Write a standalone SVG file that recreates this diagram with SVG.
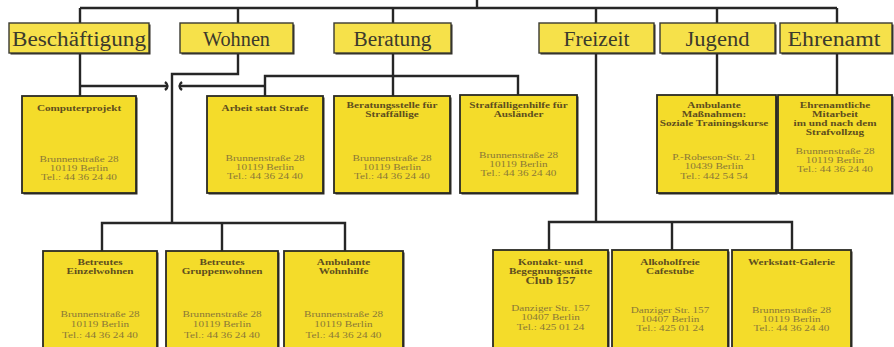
<svg xmlns="http://www.w3.org/2000/svg" width="894" height="347" viewBox="0 0 894 347">
<style>
.bg{fill:#ffffff}
.sh{fill:#2e2a22}
.tb{fill:#f6e14a;stroke:#3a3a32;stroke-width:1.4}
.box{fill:#f4dc2a;stroke:#2a2a24;stroke-width:1.8}
.ln{fill:none;stroke:#262626;stroke-width:2.4}
.top{font-family:"Liberation Serif","Times New Roman",serif;font-size:20px;fill:#3c3a2c;text-anchor:middle}
.t{font-family:"Liberation Serif","Times New Roman",serif;font-size:8.6px;font-weight:bold;fill:#5e4e1e;text-anchor:middle}
.a{font-family:"Liberation Serif","Times New Roman",serif;font-size:8.6px;fill:#8a7838;text-anchor:middle}
</style>
<rect class="bg" x="0" y="0" width="894" height="347"/>
<g id="connectors">
<path class="ln" d="M477 0 V8 M80 8 H837 M80 8 V23 M238 8 V23 M393 8 V23 M596 8 V23 M717 8 V23 M837 8 V23"/>
<path class="ln" d="M80 53 V96"/>
<path class="ln" d="M80 86 H167 M180 86 H265"/>
<path class="ln" stroke-width="2" d="M165 82 Q170 86 165 90 M182 82 Q177 86 182 90"/>
<path class="ln" d="M238 53 V74 H172 V223"/>
<path class="ln" d="M102 251 V223 H345 V251 M222 223 V251"/>
<path class="ln" d="M265 96 V76 H518 V95"/>
<path class="ln" d="M393 53 V96"/>
<path class="ln" d="M596 53 V222"/>
<path class="ln" d="M549 250 V222 H792 V250 M672 222 V250"/>
<path class="ln" d="M717 53 V95"/>
<path class="ln" d="M837 53 V95"/>
</g>
<g id="n-beschaeftigung">
<rect class="sh" x="10.5" y="24.5" width="140" height="30"/>
<rect class="tb" x="9" y="23" width="140" height="30"/>
<text class="top" x="79" y="46" textLength="134" lengthAdjust="spacingAndGlyphs">Beschäftigung</text>
</g>
<g id="n-wohnen">
<rect class="sh" x="181.5" y="24.5" width="113" height="30"/>
<rect class="tb" x="180" y="23" width="113" height="30"/>
<text class="top" x="236.5" y="46" textLength="67" lengthAdjust="spacingAndGlyphs">Wohnen</text>
</g>
<g id="n-beratung">
<rect class="sh" x="335.5" y="24.5" width="117" height="30"/>
<rect class="tb" x="334" y="23" width="117" height="30"/>
<text class="top" x="392.5" y="46" textLength="78" lengthAdjust="spacingAndGlyphs">Beratung</text>
</g>
<g id="n-freizeit">
<rect class="sh" x="540.5" y="24.5" width="115" height="30"/>
<rect class="tb" x="539" y="23" width="115" height="30"/>
<text class="top" x="596.5" y="46" textLength="66" lengthAdjust="spacingAndGlyphs">Freizeit</text>
</g>
<g id="n-jugend">
<rect class="sh" x="661.5" y="24.5" width="115" height="30"/>
<rect class="tb" x="660" y="23" width="115" height="30"/>
<text class="top" x="717.5" y="46" textLength="64" lengthAdjust="spacingAndGlyphs">Jugend</text>
</g>
<g id="n-ehrenamt">
<rect class="sh" x="781.5" y="24.5" width="112" height="30"/>
<rect class="tb" x="780" y="23" width="112" height="30"/>
<text class="top" x="834" y="46" textLength="93" lengthAdjust="spacingAndGlyphs">Ehrenamt</text>
</g>
<g id="n-computerprojekt">
<rect class="sh" x="23.5" y="97.5" width="114" height="97"/>
<rect class="box" x="22" y="96" width="114" height="97"/>
<g transform="translate(79 0) scale(1.3 1)">
<text class="t" x="0" y="111">Computerprojekt</text>
<text class="a" x="0" y="162">Brunnenstraße 28</text>
<text class="a" x="0" y="171">10119 Berlin</text>
<text class="a" x="0" y="180">Tel.: 44 36 24 40</text>
</g>
</g>
<g id="n-arbeit">
<rect class="sh" x="208.5" y="97.5" width="116" height="97"/>
<rect class="box" x="207" y="96" width="116" height="97"/>
<g transform="translate(265 0) scale(1.3 1)">
<text class="t" x="0" y="111">Arbeit statt Strafe</text>
<text class="a" x="0" y="161">Brunnenstraße 28</text>
<text class="a" x="0" y="170">10119 Berlin</text>
<text class="a" x="0" y="179">Tel.: 44 36 24 40</text>
</g>
</g>
<g id="n-beratungsstelle">
<rect class="sh" x="335.5" y="97.5" width="116" height="97"/>
<rect class="box" x="334" y="96" width="116" height="97"/>
<g transform="translate(392 0) scale(1.3 1)">
<text class="t" x="0" y="108">Beratungsstelle für</text>
<text class="t" x="0" y="117">Straffällige</text>
<text class="a" x="0" y="161">Brunnenstraße 28</text>
<text class="a" x="0" y="170">10119 Berlin</text>
<text class="a" x="0" y="179">Tel.: 44 36 24 40</text>
</g>
</g>
<g id="n-auslaender">
<rect class="sh" x="461.5" y="96.5" width="117" height="98"/>
<rect class="box" x="460" y="95" width="117" height="98"/>
<g transform="translate(518.5 0) scale(1.3 1)">
<text class="t" x="0" y="108">Straffälligenhilfe für</text>
<text class="t" x="0" y="117">Ausländer</text>
<text class="a" x="0" y="158">Brunnenstraße 28</text>
<text class="a" x="0" y="167">10119 Berlin</text>
<text class="a" x="0" y="176">Tel.: 44 36 24 40</text>
</g>
</g>
<g id="n-ambulante-massnahmen">
<rect class="sh" x="658.5" y="96.5" width="119" height="98"/>
<rect class="box" x="657" y="95" width="119" height="98"/>
<g transform="translate(714 0) scale(1.3 1)">
<text class="t" x="0" y="108">Ambulante</text>
<text class="t" x="0" y="117">Maßnahmen:</text>
<text class="t" x="0" y="126">Soziale Trainingskurse</text>
<text class="a" x="0" y="160">P.-Robeson-Str. 21</text>
<text class="a" x="0" y="169.5">10439 Berlin</text>
<text class="a" x="0" y="179">Tel.: 442 54 54</text>
</g>
</g>
<g id="n-ehrenamtliche">
<rect class="sh" x="779.5" y="96.5" width="114" height="98"/>
<rect class="box" x="778" y="95" width="114" height="98"/>
<g transform="translate(835 0) scale(1.3 1)">
<text class="t" x="0" y="108">Ehrenamtliche</text>
<text class="t" x="0" y="117">Mitarbeit</text>
<text class="t" x="0" y="126">im und nach dem</text>
<text class="t" x="0" y="135">Strafvollzug</text>
<text class="a" x="0" y="154">Brunnenstraße 28</text>
<text class="a" x="0" y="163">10119 Berlin</text>
<text class="a" x="0" y="172">Tel.: 44 36 24 40</text>
</g>
</g>
<g id="n-einzelwohnen">
<rect class="sh" x="44.5" y="252.5" width="114" height="110"/>
<rect class="box" x="43" y="251" width="114" height="110"/>
<g transform="translate(100 0) scale(1.3 1)">
<text class="t" x="0" y="265">Betreutes</text>
<text class="t" x="0" y="274">Einzelwohnen</text>
<text class="a" x="0" y="317">Brunnenstraße 28</text>
<text class="a" x="0" y="327">10119 Berlin</text>
<text class="a" x="0" y="338">Tel.: 44 36 24 40</text>
</g>
</g>
<g id="n-gruppenwohnen">
<rect class="sh" x="167.5" y="252.5" width="112" height="110"/>
<rect class="box" x="166" y="251" width="112" height="110"/>
<g transform="translate(222 0) scale(1.3 1)">
<text class="t" x="0" y="265">Betreutes</text>
<text class="t" x="0" y="274">Gruppenwohnen</text>
<text class="a" x="0" y="317">Brunnenstraße 28</text>
<text class="a" x="0" y="327">10119 Berlin</text>
<text class="a" x="0" y="338">Tel.: 44 36 24 40</text>
</g>
</g>
<g id="n-wohnhilfe">
<rect class="sh" x="285.5" y="252.5" width="119" height="110"/>
<rect class="box" x="284" y="251" width="119" height="110"/>
<g transform="translate(343.5 0) scale(1.3 1)">
<text class="t" x="0" y="265">Ambulante</text>
<text class="t" x="0" y="274">Wohnhilfe</text>
<text class="a" x="0" y="317">Brunnenstraße 28</text>
<text class="a" x="0" y="327">10119 Berlin</text>
<text class="a" x="0" y="338">Tel.: 44 36 24 40</text>
</g>
</g>
<g id="n-club157">
<rect class="sh" x="494.5" y="251.5" width="115" height="110"/>
<rect class="box" x="493" y="250" width="115" height="110"/>
<g transform="translate(550.5 0) scale(1.3 1)">
<text class="t" x="0" y="265">Kontakt- und</text>
<text class="t" x="0" y="274">Begegnungsstätte</text>
<text class="t" x="0" y="284.5" style="font-size:10px">Club 157</text>
<text class="a" x="0" y="311">Danziger Str. 157</text>
<text class="a" x="0" y="320.5">10407 Berlin</text>
<text class="a" x="0" y="330">Tel.: 425 01 24</text>
</g>
</g>
<g id="n-cafestube">
<rect class="sh" x="613.5" y="251.5" width="116" height="110"/>
<rect class="box" x="612" y="250" width="116" height="110"/>
<g transform="translate(670 0) scale(1.3 1)">
<text class="t" x="0" y="265">Alkoholfreie</text>
<text class="t" x="0" y="274">Cafestube</text>
<text class="a" x="0" y="313">Danziger Str. 157</text>
<text class="a" x="0" y="322">10407 Berlin</text>
<text class="a" x="0" y="331">Tel.: 425 01 24</text>
</g>
</g>
<g id="n-werkstatt">
<rect class="sh" x="733.5" y="251.5" width="119" height="110"/>
<rect class="box" x="732" y="250" width="119" height="110"/>
<g transform="translate(791.5 0) scale(1.3 1)">
<text class="t" x="0" y="265">Werkstatt-Galerie</text>
<text class="a" x="0" y="313">Brunnenstraße 28</text>
<text class="a" x="0" y="322">10119 Berlin</text>
<text class="a" x="0" y="331">Tel.: 44 36 24 40</text>
</g>
</g>
</svg>
